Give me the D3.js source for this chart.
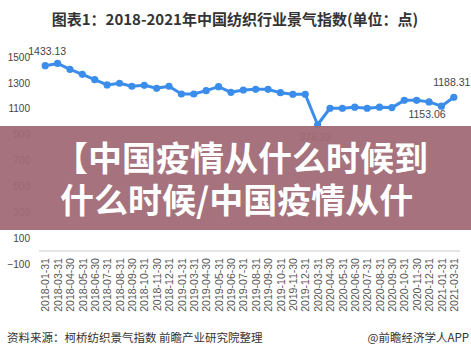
<!DOCTYPE html>
<html><head><meta charset="utf-8">
<script src="https://cdn.jsdelivr.net/npm/d3@7"></script>
<style>
html,body{margin:0;padding:0;background:#fff;}
svg{display:block;}
</style></head>
<body>
<svg id="c" width="471" height="357"></svg>
<script>
const categories = ["2018-01-31","2018-03-31","2018-04-30","2018-05-31","2018-06-30","2018-07-31","2018-08-31","2018-09-30","2018-10-31","2018-11-30","2018-12-31",
"2019-01-31","2019-03-31","2019-04-30","2019-05-31","2019-06-30","2019-07-31","2019-08-31","2019-09-30","2019-10-31","2019-11-30","2019-12-31",
"2020-03-31","2020-04-30","2020-05-31","2020-06-30","2020-07-31","2020-08-31","2020-09-30","2020-10-31","2020-11-30","2020-12-31",
"2021-01-31","2021-03-31"];
const values = [1433.13,1450,1405,1366,1325,1284,1297,1274,1281,1258,1274,
1214,1214,1240,1271,1227,1245,1250,1250,1224,1212,1212,
976.22,1104,1104,1112,1104,1112,1109,1165,1165,1153.06,1120,1188.31];
const yTicks = [1500,1300,1100,900,700,500,300,100,-100];
const annotations = [
  {i:0, text:"1433.13", pos:"above"},
  {i:22, text:"976.22", pos:"below"},
  {i:31, text:"1153.06", pos:"below"},
  {i:33, text:"1188.31", pos:"above"}
];
const title = "图表1：2018-2021年中国纺织行业景气指数(单位：点)";
const bannerLines = ["【中国疫情从什么时候到","什么时候/中国疫情从什"];
const sourceText = "资料来源：柯桥纺织景气指数 前瞻产业研究院整理";
const brandText = "@前瞻经济学人APP";

const svg = d3.select("#c");
const font = "'Liberation Sans', Arial, 'Noto Sans CJK SC', sans-serif";
const cjk = "'Noto Sans CJK SC', 'Liberation Sans', sans-serif";
const x = d3.scalePoint().domain(categories).range([39,460]).padding(0.5);
const y = d3.scaleLinear().domain([-100,1500]).range([264,57]);

// title
svg.append("text").attr("x",235).attr("y",25).attr("text-anchor","middle")
  .attr("font-family",cjk).attr("font-weight","bold").attr("font-size",15).attr("fill","#333").text(title);

// y axis
const ya = svg.append("g").attr("transform","translate(33,0)")
  .call(d3.axisLeft(y).tickValues(yTicks).tickSize(0).tickPadding(3).tickFormat(d3.format("d")));
ya.select(".domain").remove();
ya.selectAll("text").attr("font-family",font).attr("font-size",10).attr("fill","#444");

// x axis
const xa = svg.append("g").attr("transform",`translate(0,${y(0)})`)
  .call(d3.axisBottom(x).tickSize(0).tickPadding(0).tickSizeOuter(0));
xa.select(".domain").attr("stroke","#ddd").attr("stroke-width",1.5)
  .attr("d",`M${x.range()[0]},0H${x.range()[1]}`);
xa.selectAll(".tick text").attr("font-family",font).attr("font-size",10.5).attr("fill","#555")
  .attr("transform","rotate(-90)").attr("text-anchor","end").attr("x",-7).attr("y",0).attr("dy","0.35em");

// line
const color = "#3b8deb";
svg.append("path").datum(values)
  .attr("fill","none").attr("stroke",color).attr("stroke-width",3).attr("stroke-linejoin","round")
  .attr("d",d3.line().x((d,i)=>x(categories[i])).y(d=>y(d)));
svg.append("g").selectAll("circle").data(values).join("circle")
  .attr("cx",(d,i)=>x(categories[i])).attr("cy",d=>y(d)).attr("r",3.6).attr("fill",color);

// annotations
svg.append("g").selectAll("text").data(annotations).join("text")
  .attr("x",d=>x(categories[d.i])+(d.i===0?2:-2))
  .attr("y",d=>y(values[d.i]) + (d.pos==="above"?-11:16))
  .attr("text-anchor","middle").attr("font-family",font).attr("font-size",10.5).attr("fill","#444")
  .text(d=>d.text);

// banner overlay
svg.append("rect").attr("x",0).attr("y",126).attr("width",471).attr("height",104)
  .attr("fill","rgb(160,106,118)").attr("opacity",0.95);
svg.append("g").selectAll("text").data(bannerLines).join("text")
  .attr("x",(d,i)=>i===0?54:60).attr("y",(d,i)=>171+i*42)
  .attr("font-family",cjk).attr("font-weight","bold").attr("font-size",34).attr("fill","#fff")
  .text(d=>d);

// footer
svg.append("text").attr("x",7).attr("y",342).attr("font-family",cjk).attr("font-size",11.5).attr("fill","#333").text(sourceText);
svg.append("text").attr("x",469).attr("y",342).attr("text-anchor","end").attr("font-family",cjk).attr("font-size",11.5).attr("fill","#333").text(brandText);
</script>
</body></html>
